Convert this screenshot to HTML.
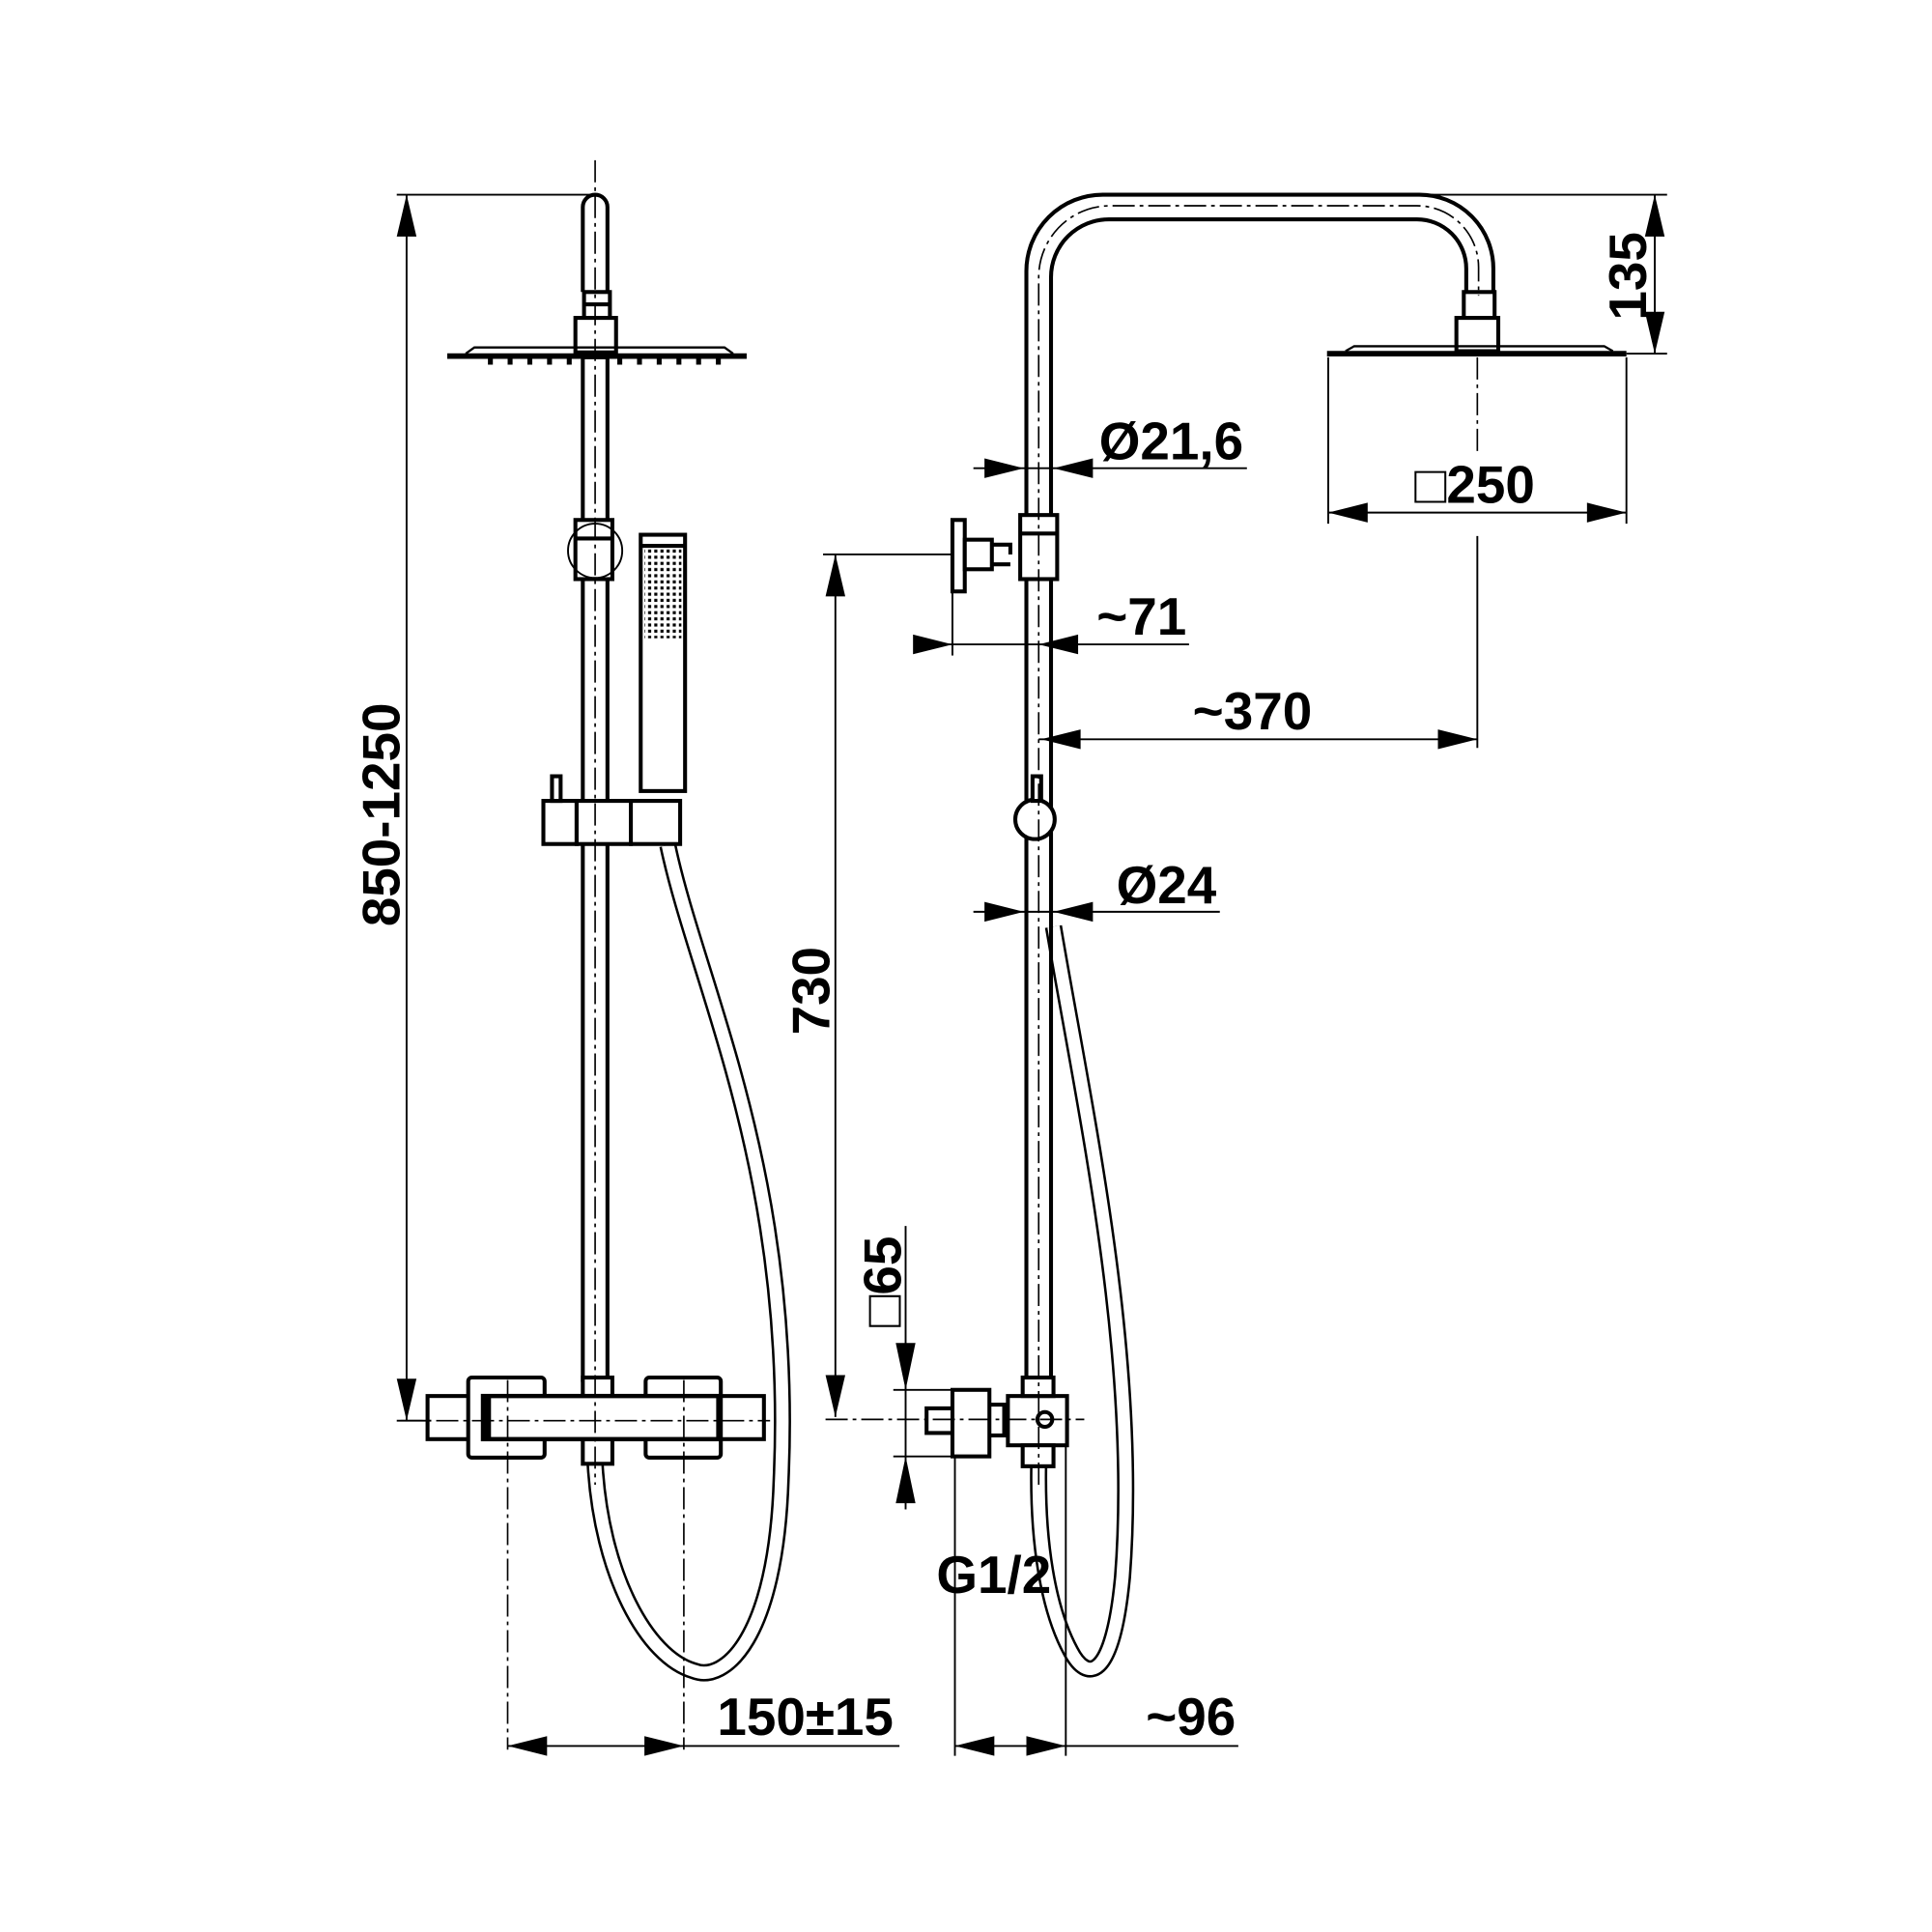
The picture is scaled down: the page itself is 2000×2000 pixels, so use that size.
<!DOCTYPE html>
<html><head><meta charset="utf-8"><style>
html,body{margin:0;padding:0;background:#fff}
svg{display:block}
text{font-family:"Liberation Sans",Arial,sans-serif;font-weight:bold;font-size:43px;fill:#000}
</style></head><body>
<svg width="2000" height="2000" viewBox="0 0 1568 1568" xmlns="http://www.w3.org/2000/svg">
<defs>
<pattern id="dots" width="5" height="5" patternUnits="userSpaceOnUse"><rect x="1" y="1" width="2.5" height="2.5" fill="#000"/></pattern>
</defs>
<g fill="none" stroke="#000">
<!-- hoses (double line via stroke overlay) -->
<path d="M542 686 C566 800,645 950,634 1200 C630 1330,588 1366,563 1356 C525 1345,488 1278,483 1188" stroke-width="14"/>
<path d="M542 686 C566 800,645 950,634 1200 C630 1330,588 1366,563 1356 C525 1345,488 1278,483 1188" stroke="#fff" stroke-width="10"/>
<path d="M855 752 C880 900,925 1100,911 1280 C903 1365,882 1365,869 1340 C850 1305,842 1250,843 1190" stroke-width="14"/>
<path d="M855 752 C880 900,925 1100,911 1280 C903 1365,882 1365,869 1340 C850 1305,842 1250,843 1190" stroke="#fff" stroke-width="10"/>
<!-- LEFT VIEW -->
<g stroke-width="3.2">
<path d="M473 237 V168 a10 10 0 0 1 20 0 V237" fill="#fff"/>
<rect x="474" y="237" width="21" height="21" fill="#fff"/>
<line x1="474" y1="247" x2="495" y2="247"/>
<rect x="467" y="258" width="33" height="28" fill="#fff"/>
<rect x="473" y="290" width="20" height="830" fill="#fff"/>
<rect x="467" y="422" width="30" height="48" fill="#fff"/>
<line x1="467" y1="437" x2="497" y2="437"/>
<rect x="520" y="434" width="36" height="208" fill="#fff"/>
<line x1="520" y1="443" x2="556" y2="443"/>
<rect x="441" y="650" width="27" height="35" fill="#fff"/>
<rect x="468" y="650" width="44" height="35" fill="#fff"/>
<rect x="512" y="650" width="40" height="35" fill="#fff"/>
<rect x="448" y="630" width="7" height="20" fill="#fff"/>
<rect x="347" y="1133" width="45" height="35" fill="#fff"/>
<rect x="583" y="1133" width="37" height="35" fill="#fff"/>
<rect x="380" y="1118" width="62" height="65" rx="3" fill="#fff"/>
<rect x="524" y="1118" width="61" height="65" rx="3" fill="#fff"/>
<rect x="473" y="1118" width="24" height="15" fill="#fff"/>
<rect x="473" y="1168" width="24" height="20" fill="#fff"/>
<rect x="392" y="1133" width="191" height="35" fill="#fff" stroke-width="3.5"/>
</g>
<line x1="396" y1="1133" x2="396" y2="1168" stroke-width="5"/>
<circle cx="483" cy="447" r="22" stroke-width="1.5"/>
<rect x="523" y="445" width="30" height="73" fill="url(#dots)" stroke="none"/>
<line x1="363" y1="289" x2="606" y2="289" stroke-width="4.5"/>
<path d="M378 287 L385 282 H588 L595 287" stroke-width="1.8"/>
<path d="M398 291 v5 M414 291 v5 M430 291 v5 M446 291 v5 M462 291 v5 M503 291 v5 M519 291 v5 M535 291 v5 M551 291 v5 M567 291 v5 M583 291 v5" stroke-width="4"/>
<g stroke-width="1.3" stroke-dasharray="18,4,3,4">
<line x1="483" y1="130" x2="483" y2="1205"/>
<line x1="412" y1="1120" x2="412" y2="1420"/>
<line x1="555" y1="1120" x2="555" y2="1420"/>
<line x1="325" y1="1153" x2="625" y2="1153"/>
</g>
<g stroke-width="1.5">
<line x1="330" y1="158" x2="330" y2="1153"/>
<line x1="322" y1="158" x2="483" y2="158"/>
<line x1="322" y1="1153" x2="350" y2="1153"/>
<line x1="412" y1="1417" x2="730" y2="1417"/>
</g>
<!-- RIGHT VIEW -->
<g stroke-width="3.2">
<path d="M833 420 V220 a62 62 0 0 1 62 -62 H1152 a60 60 0 0 1 60 60 V237"/>
<path d="M853 420 V225 a47 47 0 0 1 47 -47 H1150 a40 40 0 0 1 40 40 V237"/>
<rect x="1188" y="237" width="25" height="21" fill="#fff"/>
<rect x="1182" y="258" width="34" height="27" fill="#fff"/>
<line x1="833" y1="470" x2="833" y2="1120"/>
<line x1="853" y1="470" x2="853" y2="1120"/>
<rect x="828" y="418" width="30" height="52" fill="#fff"/>
<line x1="828" y1="433" x2="858" y2="433"/>
<rect x="773" y="422" width="10" height="58" fill="#fff"/>
<rect x="783" y="438" width="22" height="24" fill="#fff"/>
<path d="M805 442 H820 V450 M805 458 H820"/>
<circle cx="840" cy="665" r="16" fill="#fff"/>
<rect x="838" y="630" width="7" height="20" fill="#fff"/>
<rect x="818" y="1133" width="48" height="40" fill="#fff"/>
<circle cx="848" cy="1152" r="6"/>
<rect x="830" y="1118" width="25" height="15" fill="#fff"/>
<rect x="830" y="1173" width="25" height="17" fill="#fff"/>
<rect x="800" y="1140" width="15" height="25" fill="#fff"/>
<rect x="773" y="1128" width="30" height="54" fill="#fff"/>
<rect x="752" y="1143" width="21" height="20" fill="#fff"/>
</g>
<line x1="1077" y1="287" x2="1320" y2="287" stroke-width="4.5"/>
<path d="M1092 285 L1099 281 H1302 L1309 285" stroke-width="1.8"/>
<g stroke-width="1.3" stroke-dasharray="18,4,3,4">
<path d="M843 1205 V225 a58 58 0 0 1 58 -58 H1150 a50 50 0 0 1 50 50 V240"/>
<line x1="1199" y1="290" x2="1199" y2="370"/>
<line x1="670" y1="1152" x2="880" y2="1152"/>
</g>
<g stroke-width="1.5">
<line x1="1343" y1="158" x2="1343" y2="287"/>
<line x1="1160" y1="158" x2="1353" y2="158"/>
<line x1="1320" y1="287" x2="1353" y2="287"/>
<line x1="1078" y1="290" x2="1078" y2="425"/>
<line x1="1320" y1="290" x2="1320" y2="425"/>
<line x1="1078" y1="416" x2="1320" y2="416"/>
<line x1="790" y1="380" x2="1012" y2="380"/>
<line x1="743" y1="523" x2="965" y2="523"/>
<line x1="773" y1="480" x2="773" y2="532"/>
<line x1="678" y1="450" x2="678" y2="1150"/>
<line x1="668" y1="450" x2="773" y2="450"/>
<line x1="843" y1="600" x2="1199" y2="600"/>
<line x1="1199" y1="435" x2="1199" y2="607"/>
<line x1="790" y1="740" x2="990" y2="740"/>
<line x1="735" y1="995" x2="735" y2="1225"/>
<line x1="725" y1="1128" x2="790" y2="1128"/>
<line x1="725" y1="1182" x2="790" y2="1182"/>
<line x1="775" y1="1182" x2="775" y2="1425"/>
<line x1="865" y1="1173" x2="865" y2="1425"/>
<line x1="775" y1="1417" x2="1005" y2="1417"/>
</g>
</g>
<g fill="#000">
<polygon points="330,158 322,192 338,192"/>
<polygon points="330,1153 322,1119 338,1119"/>
<polygon points="412,1417 444,1409 444,1425"/>
<polygon points="555,1417 523,1409 523,1425"/>
<polygon points="1343,158 1335,192 1351,192"/>
<polygon points="1343,287 1335,253 1351,253"/>
<polygon points="1078,416 1110,408 1110,424"/>
<polygon points="1320,416 1288,408 1288,424"/>
<polygon points="831,380 799,372 799,388"/>
<polygon points="855,380 887,372 887,388"/>
<polygon points="773,523 741,515 741,531"/>
<polygon points="843,523 875,515 875,531"/>
<polygon points="678,450 670,484 686,484"/>
<polygon points="678,1150 670,1116 686,1116"/>
<polygon points="845,600 877,592 877,608"/>
<polygon points="1199,600 1167,592 1167,608"/>
<polygon points="831,740 799,732 799,748"/>
<polygon points="855,740 887,732 887,748"/>
<polygon points="735,1128 727,1090 743,1090"/>
<polygon points="735,1182 727,1220 743,1220"/>
<polygon points="775,1417 807,1409 807,1425"/>
<polygon points="865,1417 833,1409 833,1425"/>
</g>
<text transform="translate(324,752) rotate(-90)">850-1250</text>
<text x="582" y="1408">150±15</text>
<text transform="translate(1336,260) rotate(-90)">135</text>
<text x="1148" y="408">□250</text>
<text x="892" y="373">Ø21,6</text>
<text x="890" y="515">~71</text>
<text x="968" y="592">~370</text>
<text x="906" y="733">Ø24</text>
<text transform="translate(673,840) rotate(-90)">730</text>
<text transform="translate(731,1077) rotate(-90)">□65</text>
<text x="760" y="1293">G1/2</text>
<text x="930" y="1408">~96</text>
</svg>
</body></html>
